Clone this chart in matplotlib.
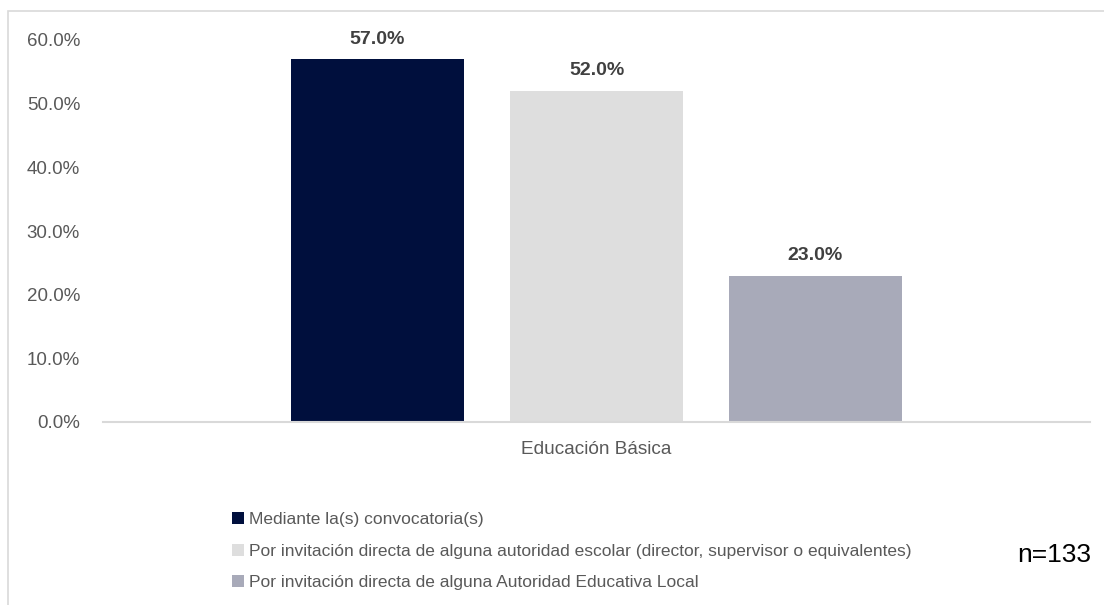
import matplotlib.pyplot as plt
from matplotlib.patches import Patch, Rectangle
from matplotlib.ticker import FuncFormatter

plt.rcParams['font.family'] = ['Liberation Sans', 'DejaVu Sans']

category = 'Educación Básica'
series = ['Mediante la(s) convocatoria(s)',
          'Por invitación directa de alguna autoridad escolar (director, supervisor o equivalentes)',
          'Por invitación directa de alguna Autoridad Educativa Local']
values = [0.57, 0.52, 0.23]
colors = ['#000F3D', '#DEDEDE', '#A8AAB9']
n_label = 'n=133'

W, H = 1104, 605
fig = plt.figure(figsize=(W / 100, H / 100), dpi=100)
fig.patches.append(Rectangle((8 / W, -0.1), 1.2, 1 - 11 / H + 0.1, transform=fig.transFigure,
                             fill=False, edgecolor='#D9D9D9', linewidth=1.2))

ax = fig.add_axes([103 / W, 1 - 422 / H, (1090 - 103) / W, (422 - 40) / H])
width = 173 / 987
offsets = [-219 / 987, 0, 219 / 987]
for off, v, c in zip(offsets, values, colors):
    ax.bar(off, v, width=width, color=c)
    ax.text(off, v + 0.018, f'{v * 100:.1f}%', ha='center', va='bottom',
            fontsize=14, fontweight='bold', color='#404040')

ax.set_xlim(-0.5, 0.5)
ax.set_ylim(0, 0.6)
ax.set_yticks([0, 0.1, 0.2, 0.3, 0.4, 0.5, 0.6])
ax.yaxis.set_major_formatter(FuncFormatter(lambda y, p: f'{y * 100:.1f}%'))
ax.tick_params(axis='y', length=0, pad=16.5, labelsize=13.5, labelcolor='#595959')
ax.set_xticks([0])
ax.set_xticklabels([category])
ax.tick_params(axis='x', length=0, pad=14, labelsize=13.7, labelcolor='#595959')
for s in ['top', 'right', 'left']:
    ax.spines[s].set_visible(False)
ax.spines['bottom'].set_color('#D9D9D9')
ax.spines['bottom'].set_linewidth(1.5)

handles = [Patch(facecolor=c, edgecolor='none') for c in colors]
fig.legend(handles, series, loc='upper left', bbox_to_anchor=(232 / W, 1 - 512 / H),
           frameon=False, fontsize=12.5, labelcolor='#595959', handlelength=0.7,
           handleheight=0.7, handletextpad=0.3, labelspacing=0.95, borderaxespad=0,
           borderpad=0)

fig.text(1054 / W, 1 - 555 / H, n_label, ha='center', va='center', fontsize=19, color='black')

fig.savefig('out.png', dpi=100)
